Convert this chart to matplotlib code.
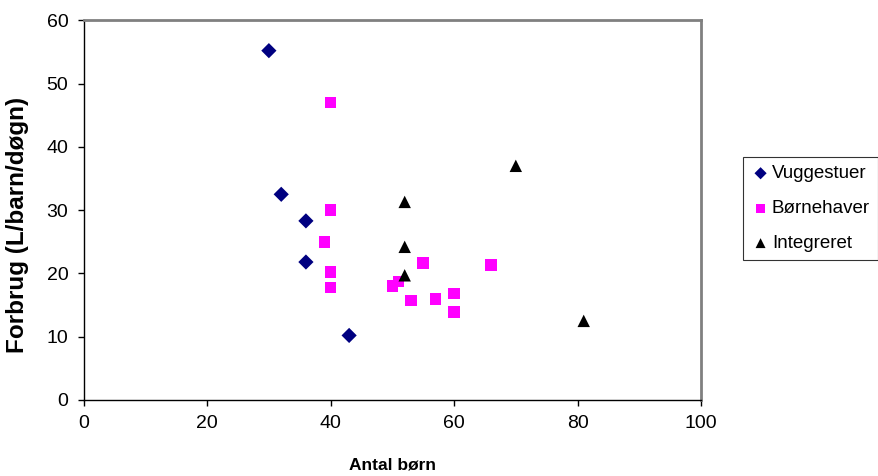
import matplotlib.pyplot as plt

plt.rcParams['font.family'] = ['Liberation Sans', 'DejaVu Sans']

# vuggestuer
vugge_born = [30, 32, 36, 36, 43]
vugge_forbrug = [55.2, 32.5, 28.3, 21.8, 10.2]

# børnehaver
bh_born = [40, 40, 39, 40, 40, 50, 51, 55, 53, 57, 60, 60, 66]
bh_forbrug = [47.0, 30.0, 25.0, 20.2, 17.8, 18.0, 18.7, 21.6, 15.7, 16.0, 16.8, 13.9, 21.3]

# integrerede institutioner
int_born = [70, 52, 52, 52, 81]
int_forbrug = [37.0, 31.3, 24.2, 19.7, 12.5]

fig = plt.figure(figsize=(8.79, 4.76), dpi=100)
ax = fig.add_axes([0.0952, 0.1597, 0.7023, 0.7977])

ax.scatter(vugge_born, vugge_forbrug, marker='D', s=60, color='#000080',
           edgecolors='none', label='Vuggestuer', zorder=3)
ax.scatter(bh_born, bh_forbrug, marker='s', s=70, color='#FF00FF',
           edgecolors='none', label='Børnehaver', zorder=3)
ax.scatter(int_born, int_forbrug, marker='^', s=80, color='black',
           edgecolors='none', label='Integreret', zorder=3)

ax.set_xlim(0, 100)
ax.set_ylim(0, 60)
ax.set_xticks(range(0, 101, 20))
ax.set_yticks(range(0, 61, 10))
ax.tick_params(direction='out', length=4, width=1, labelsize=14)
ax.tick_params(axis='x', pad=7)
ax.tick_params(axis='y', pad=7)

for side in ['left', 'bottom']:
    ax.spines[side].set_color('black')
    ax.spines[side].set_linewidth(1)
for side in ['top', 'right']:
    ax.spines[side].set_color('#808080')
    ax.spines[side].set_linewidth(2)

ax.set_xlabel('Antal børn', fontsize=12.5, fontweight='bold')
ax.set_ylabel('Forbrug (L/barn/døgn)', fontsize=17.5, fontweight='bold')
ax.xaxis.set_label_coords(0.5, -0.152)
ax.yaxis.set_label_coords(-0.088, 0.46)

leg = fig.legend(loc='upper left', bbox_to_anchor=(0.845, 0.671), fontsize=13.5,
                 frameon=True, fancybox=False, edgecolor='black',
                 handletextpad=0.1, handlelength=1.0, labelspacing=0.95,
                 borderaxespad=0, borderpad=0.45, markerscale=0.8)
leg.get_frame().set_linewidth(0.8)

fig.savefig('out.png', dpi=100)
